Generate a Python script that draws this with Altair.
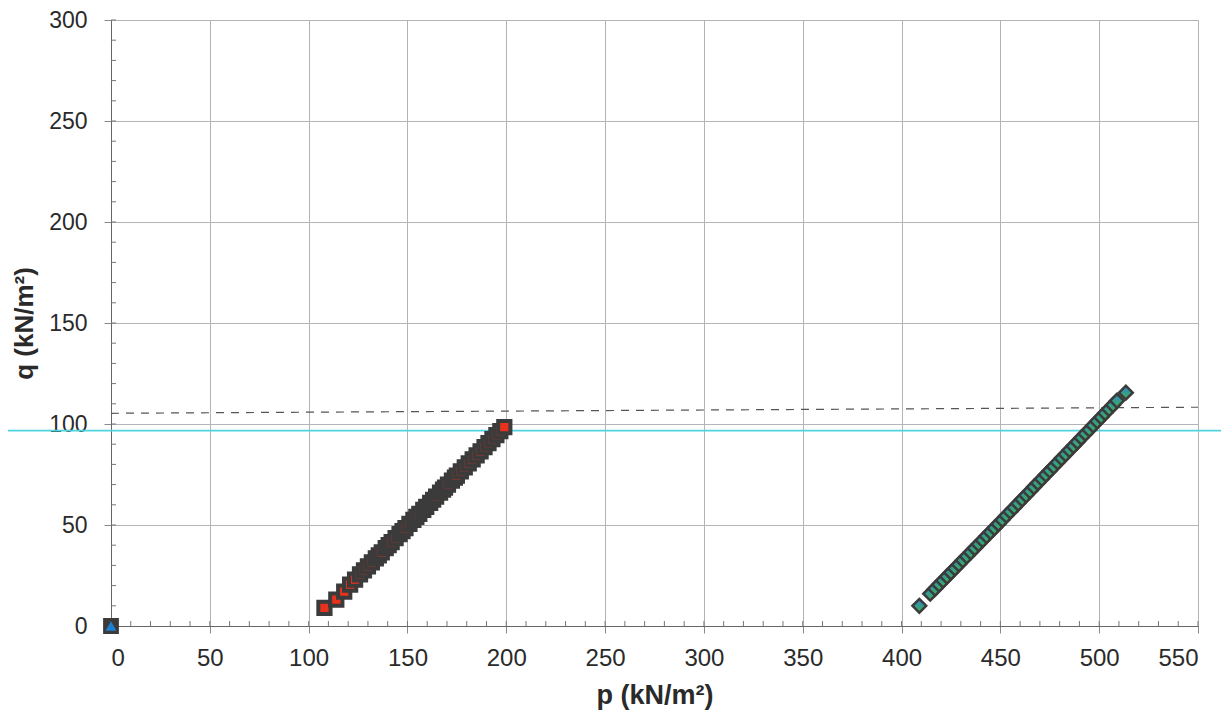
import altair as alt
import pandas as pd

# ---- data ----
red_p = [108, 114, 118, 121, 123.5, 126, 128, 130, 132, 134, 135.5, 137, 139, 140.5,
         142, 144, 146, 147.5, 149, 151, 153, 154.5, 156, 158, 159.5, 161.5, 163, 164.5,
         166.5, 168, 169, 170.5, 172.5, 174, 175, 177, 179, 181, 183, 185, 187, 189,
         191, 193, 195, 197, 199]
red_q = [9, 13, 17, 20.5, 23, 25.5, 27.5, 29.5, 31.5, 33.5, 35, 36.5, 38.5, 40,
         41.5, 43.5, 45.5, 47, 48.5, 50.5, 52.5, 54, 55.5, 57.5, 59, 61, 62.5, 64,
         66, 67.5, 68.5, 70, 72, 73.5, 74.5, 76.5, 78.5, 80.5, 82.5, 84.5, 86.5, 88.5,
         90.5, 92.5, 94.5, 96.5, 98.5]

green_p = [409, 414.5, 417, 419, 421, 423, 425, 427, 429, 431, 433, 435, 437, 439,
           441, 443, 445, 447, 449, 451, 453, 455, 457, 459, 461, 463, 465, 467,
           469, 471, 473, 475, 477, 479, 481, 483, 485, 487, 489, 491, 493, 495,
           497, 499, 501, 503, 505, 507, 509, 513.5]
green_q = [10, 16, 18.5, 20.5, 22.5, 24.5, 26.5, 28.5, 30.5, 32.5, 34.5, 36.5, 38.5, 40.5,
           42.5, 44.5, 46.5, 48.5, 50.5, 52.5, 54.6, 56.6, 58.6, 60.6, 62.7, 64.7, 66.7, 68.8,
           70.8, 72.8, 74.9, 76.9, 78.9, 81, 83, 85, 87.1, 89.1, 91.1, 93.2, 95.2, 97.2,
           99.3, 101.3, 103.3, 105.4, 107.4, 109.4, 111.5, 115.5]

blue_p = [0]
blue_q = [0]

dash_p = [0, 550]
dash_q = [105.3, 108.3]

cyan_q = 96.7

x_ticks = list(range(0, 551, 50))
y_ticks = list(range(0, 301, 50))
x_minor = list(range(0, 551, 10))
y_minor = list(range(0, 301, 10))

W, H = 1087, 606
FONT = "Liberation Sans"

xs = alt.Scale(domain=[0, 550], nice=False, zero=False)
ys = alt.Scale(domain=[0, 300], nice=False, zero=False)

red_df = pd.DataFrame({"p": red_p, "q": red_q})
green_df = pd.DataFrame({"p": green_p, "q": green_q})
blue_df = pd.DataFrame({"p": blue_p, "q": blue_q})
dash_df = pd.DataFrame({"p": dash_p, "q": dash_q})
xm_df = pd.DataFrame({"p": x_minor})
ym_df = pd.DataFrame({"q": y_minor})

xaxis = alt.Axis(values=x_ticks, title="p (kN/m²)", grid=True, gridColor="#b4b4b4",
                 gridWidth=1, tickSize=7, tickColor="#8a8a8a", domainColor="#666666",
                 labelFont=FONT, labelFontSize=24, labelColor="#2a2a2a", labelPadding=13,
                 titleFont=FONT, titleFontSize=27, titleFontWeight="bold",
                 titleColor="#2a2a2a", titlePadding=12)
yaxis = alt.Axis(values=y_ticks, title="q (kN/m²)", grid=True, gridColor="#b4b4b4",
                 gridWidth=1, tickSize=7, tickColor="#8a8a8a", domainColor="#666666",
                 labelFont=FONT, labelFontSize=23, labelColor="#2a2a2a", labelPadding=17,
                 titleFont=FONT, titleFontSize=26, titleFontWeight="bold",
                 titleColor="#2a2a2a", titlePadding=11)

base_axes = alt.Chart(blue_df).mark_point(opacity=0).encode(
    x=alt.X("p:Q", scale=xs, axis=xaxis),
    y=alt.Y("q:Q", scale=ys, axis=yaxis),
)

xminor = alt.Chart(xm_df).mark_rule(color="#777777", strokeWidth=1).encode(
    x=alt.X("p:Q", scale=xs),
    y=alt.value(H - 5), y2=alt.value(H),
)
yminor = alt.Chart(ym_df).mark_rule(color="#777777", strokeWidth=1).encode(
    y=alt.Y("q:Q", scale=ys),
    x=alt.value(0), x2=alt.value(5),
)

dash = alt.Chart(dash_df).mark_line(color="#555555", strokeWidth=1.2,
                                    strokeDash=[8, 7]).encode(
    x=alt.X("p:Q", scale=xs), y=alt.Y("q:Q", scale=ys))

cyan = alt.Chart(pd.DataFrame({"q": [cyan_q]})).mark_rule(
    color="#4fd3de", strokeWidth=1.6).encode(
    y=alt.Y("q:Q", scale=ys), x=alt.value(-111), x2=alt.value(W + 40))

red = alt.Chart(red_df).mark_point(shape="square", filled=True, size=150,
                                   fill="#e8321e", stroke="#3b3b3b", strokeWidth=4,
                                   opacity=1).encode(
    x=alt.X("p:Q", scale=xs), y=alt.Y("q:Q", scale=ys))

green_fill = alt.Gradient(
    gradient="linear",
    stops=[alt.GradientStop(color="#2c86d4", offset=0),
           alt.GradientStop(color="#3fb24a", offset=1)],
    x1=0, y1=0, x2=1, y2=1)

green = alt.Chart(green_df).mark_point(shape="square", filled=True, size=95, angle=45,
                                       fill=green_fill, stroke="#3b3b3b", strokeWidth=2.5,
                                       opacity=1).encode(
    x=alt.X("p:Q", scale=xs), y=alt.Y("q:Q", scale=ys))

blue_sq = alt.Chart(blue_df).mark_point(shape="square", filled=True, size=190,
                                        fill="#3b3b3b", stroke="#3b3b3b", opacity=1).encode(
    x=alt.X("p:Q", scale=xs), y=alt.Y("q:Q", scale=ys))
blue_tri = alt.Chart(blue_df).mark_point(shape="triangle-up", filled=True, size=120,
                                         fill="#1f7fd0", opacity=1).encode(
    x=alt.X("p:Q", scale=xs), y=alt.Y("q:Q", scale=ys))

chart = alt.layer(base_axes, xminor, yminor, dash, cyan, red, green, blue_sq, blue_tri).properties(
    width=W, height=H,
    autosize=alt.AutoSizeParams(type="none"),
    padding={"left": 103, "top": 12, "right": 23, "bottom": 94},
).configure_view(stroke=None).configure(background="white")

chart.save("out.html", embed_options={"renderer": "svg", "actions": False})
